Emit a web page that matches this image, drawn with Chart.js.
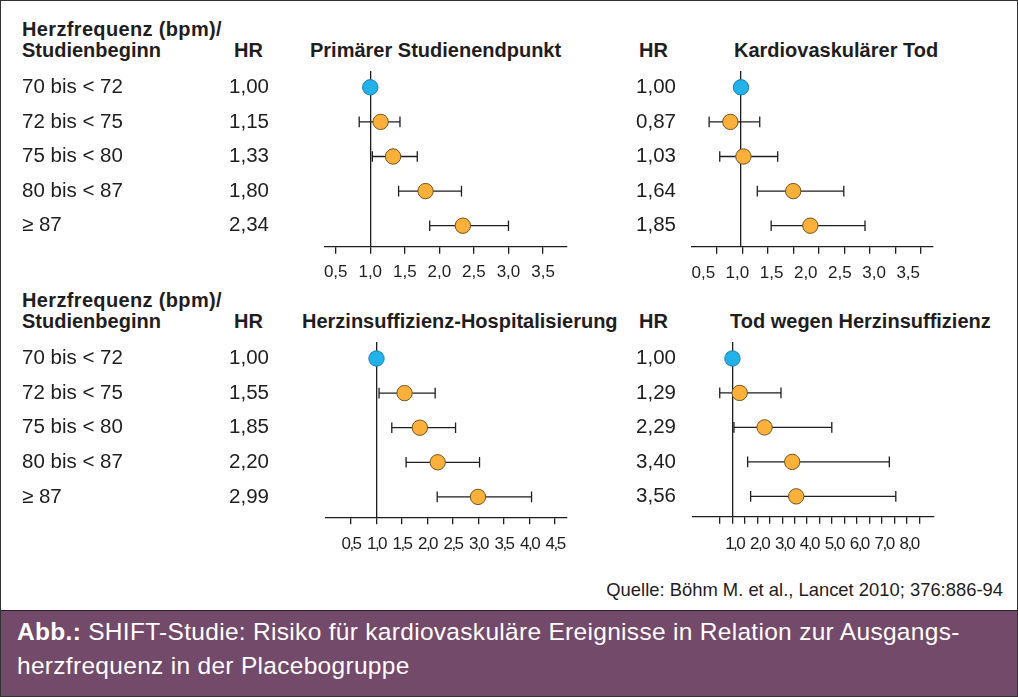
<!DOCTYPE html>
<html lang="de"><head><meta charset="utf-8">
<title>SHIFT-Studie</title>
<script src="https://cdn.jsdelivr.net/npm/chart.js@4.4.1/dist/chart.umd.min.js"></script>
<style>
html,body{margin:0;padding:0;background:#fff;}
#fig{position:relative;width:1018px;height:697px;overflow:hidden;background:#fff;font-family:"Liberation Sans",Arial,Helvetica,sans-serif;color:#1f1d1e;}
.t{position:absolute;white-space:nowrap;line-height:1;font-size:20px;}
.b{font-weight:bold;}
.w{letter-spacing:0.35px;}
canvas{position:absolute;}
#band{position:absolute;left:0;top:610px;width:1018px;height:87px;background:#744a6a;border-top:1.5px solid #2b2128;box-sizing:border-box;}
#cap{position:absolute;left:17px;top:614.5px;color:#fff;font-size:24.5px;letter-spacing:0.3px;line-height:34px;white-space:nowrap;}
#frame{position:absolute;left:0;top:0;width:1018px;height:697px;border:1.5px solid #333;box-sizing:border-box;pointer-events:none;}
</style></head>
<body>
<div id="fig">
  <div class="t b w" style="left:22px;top:19.1px">Herzfrequenz (bpm)/</div>
  <div class="t b" style="left:22px;top:40.1px">Studienbeginn</div>
  <div class="t b" style="right:755px;top:40.4px">HR</div>
  <div class="t b" style="left:310px;top:40.4px">Primärer Studienendpunkt</div>
  <div class="t b" style="right:350px;top:40.4px">HR</div>
  <div class="t b" style="left:734px;top:40.4px">Kardiovaskulärer Tod</div>

  <div class="t b w" style="left:22px;top:290.1px">Herzfrequenz (bpm)/</div>
  <div class="t b" style="left:22px;top:311.1px">Studienbeginn</div>
  <div class="t b" style="right:755px;top:311.1px">HR</div>
  <div class="t b" style="left:302px;top:311.1px">Herzinsuffizienz-Hospitalisierung</div>
  <div class="t b" style="right:350px;top:311.1px">HR</div>
  <div class="t b" style="left:730px;top:311.1px">Tod wegen Herzinsuffizienz</div>

  <canvas id="c1" width="580" height="240" style="left:0;top:60px;width:580px;height:240px"></canvas>
  <canvas id="c2" width="365" height="240" style="left:580px;top:60px;width:365px;height:240px"></canvas>
  <canvas id="c3" width="580" height="240" style="left:0;top:330px;width:580px;height:240px"></canvas>
  <canvas id="c4" width="365" height="240" style="left:580px;top:330px;width:365px;height:240px"></canvas>

  <div class="t" style="right:15px;top:581.1px;font-size:18.4px">Quelle: Böhm M. et al., Lancet 2010; 376:886-94</div>
  <div id="band"></div>
  <div id="cap"><b>Abb.:</b> SHIFT-Studie: Risiko für kardiovaskuläre Ereignisse in Relation zur Ausgangs-<br>herzfrequenz in der Placebogruppe</div>
  <div id="frame"></div>
</div>
<script>
// ---- data ----
const rowLabels = ['70 bis < 72', '72 bis < 75', '75 bis < 80', '80 bis < 87', '≥ 87'];
const rowIndex = [0, 1, 2, 3, 4];

// Primärer Studienendpunkt
const hrPrimary = [1.00, 1.15, 1.33, 1.80, 2.34];
const loPrimary = [null, 0.84, 1.03, 1.41, 1.86];
const hiPrimary = [null, 1.43, 1.68, 2.32, 3.00];
const ticksPrimary = [0.5, 1.0, 1.5, 2.0, 2.5, 3.0, 3.5];
const tickLabelsPrimary = ['0,5', '1,0', '1,5', '2,0', '2,5', '3,0', '3,5'];

// Kardiovaskulärer Tod
const hrCvDeath = [1.00, 0.87, 1.03, 1.64, 1.85];
const loCvDeath = [null, 0.61, 0.74, 1.20, 1.37];
const hiCvDeath = [null, 1.23, 1.45, 2.26, 2.52];
const ticksCvDeath = [0.5, 1.0, 1.5, 2.0, 2.5, 3.0, 3.5, 4.0, 4.5];
const tickLabelValuesCvDeath = [0.5, 1.0, 1.5, 2.0, 2.5, 3.0, 3.5];
const tickLabelsCvDeath = ['0,5', '1,0', '1,5', '2,0', '2,5', '3,0', '3,5'];

// Herzinsuffizienz-Hospitalisierung
const hrHfHosp = [1.00, 1.55, 1.85, 2.20, 2.99];
const loHfHosp = [null, 1.05, 1.30, 1.58, 2.19];
const hiHfHosp = [null, 2.15, 2.55, 3.02, 4.04];
const ticksHfHosp = [0.5, 1.0, 1.5, 2.0, 2.5, 3.0, 3.5, 4.0, 4.5];
const tickLabelsHfHosp = ['0,5', '1,0', '1,5', '2,0', '2,5', '3,0', '3,5', '4,0', '4,5'];

// Tod wegen Herzinsuffizienz
const hrHfDeath = [1.00, 1.29, 2.29, 3.40, 3.56];
const loHfDeath = [null, 0.49, 1.06, 1.61, 1.73];
const hiHfDeath = [null, 2.95, 4.99, 7.30, 7.56];
const ticksHfDeath = [0.5, 1.0, 1.5, 2.0, 2.5, 3.0, 3.5, 4.0, 4.5, 5.0, 5.5, 6.0, 6.5, 7.0, 7.5, 8.0, 8.5];
const tickLabelValuesHfDeath = [1, 2, 3, 4, 5, 6, 7, 8];
const tickLabelsHfDeath = ['1,0', '2,0', '3,0', '4,0', '5,0', '6,0', '7,0', '8,0'];

// ---- styles ----
const ink = '#1f1d1e';
const blue = '#22b1e8', blueEdge = '#1a7fae';
const orange = '#fbb03b', orangeEdge = '#6f561f';
const FONT = '"Liberation Sans", Arial, sans-serif';

function fmtHR(v) { return v.toFixed(2).replace('.', ','); }

function buildPanel(p) {
  const datasets = [];
  datasets.push({
    data: p.hr.map((v, i) => ({ x: v, y: rowIndex[i] })),
    pointRadius: 7.7,
    pointBackgroundColor: p.hr.map((v, i) => i === 0 ? blue : orange),
    pointBorderColor: p.hr.map((v, i) => i === 0 ? blueEdge : orangeEdge),
    pointBorderWidth: 1,
    order: 0, xAxisID: 'x', yAxisID: 'yh'
  });
  p.lo.forEach((lo, i) => {
    if (lo == null) return;
    datasets.push({
      data: [{ x: lo, y: rowIndex[i] }, { x: p.hi[i], y: rowIndex[i] }],
      showLine: true, borderColor: ink, borderWidth: 1.3,
      pointStyle: 'line', pointRotation: 90, pointRadius: 5.3,
      pointBorderColor: ink, pointBorderWidth: 1.3, pointBackgroundColor: ink,
      order: 1, xAxisID: 'x', yAxisID: 'yh'
    });
  });
  const vFit = (w) => s => { if (w !== undefined) s.width = w; s.paddingTop = 0; s.paddingBottom = 0; };
  const rowScale = (extra) => Object.assign({
    type: 'linear', reverse: true, min: p.rowMin, max: p.rowMax,
    afterBuildTicks: s => { s.ticks = rowIndex.map(v => ({ value: v })); },
    grid: { display: false, drawTicks: false },
    border: { display: false },
    afterFit: vFit()
  }, extra);

  const scales = {
    x: { type: 'linear', display: false, min: p.dMin, max: p.dMax },
    xt: {
      type: 'linear', position: 'bottom', weight: 1, min: p.tMin, max: p.tMax,
      afterBuildTicks: s => { s.ticks = p.ticks.map(v => ({ value: v })); },
      ticks: { display: false },
      grid: { display: true, drawOnChartArea: false, drawTicks: true, tickLength: 7, color: ink, lineWidth: 1.3 },
      border: { display: true, color: ink, width: 1.3 },
      afterFit: s => { s.height = 7; s.paddingLeft = 0; s.paddingRight = 0; }
    },
    xl: {
      type: 'linear', position: 'bottom', weight: 2, min: p.lMin, max: p.lMax,
      afterBuildTicks: s => { s.ticks = p.labelTicks.map(v => ({ value: v })); },
      ticks: {
        autoSkip: false, maxRotation: 0, minRotation: 0, padding: p.lPad, color: ink,
        font: { family: FONT, size: 17 },
        callback: (v, i) => p.labels[i]
      },
      grid: { display: false, drawTicks: false },
      border: { display: false },
      afterFit: s => {
        s.height = 30; s.paddingLeft = 0; s.paddingRight = 0;
        if (p.lSpacing && !s._spaced) {
          const orig = s.drawLabels;
          s.drawLabels = function (ca) {
            const c = this.ctx; c.save(); c.letterSpacing = p.lSpacing; orig.call(this, ca); c.restore();
          };
          s._spaced = true;
        }
      }
    },
    yh: rowScale({
      position: 'left', weight: 1,
      ticks: { autoSkip: false, padding: p.yhPad, color: ink, font: { family: FONT, size: 20.5 }, callback: (v, i) => fmtHR(p.hr[i]) },
      afterFit: vFit(p.yhWidth)
    }),
    y0: rowScale({
      position: { x: 1 },
      ticks: { display: false },
      border: { display: true, color: ink, width: 1.3 }
    })
  };
  if (p.withRows) {
    scales.yr = rowScale({
      position: 'left', weight: 2,
      ticks: { autoSkip: false, crossAlign: 'far', padding: 0, color: ink, font: { family: FONT, size: 20.5 }, callback: (v, i) => rowLabels[i] },
      afterFit: vFit(p.yrWidth)
    });
  }
  new Chart(document.getElementById(p.id), {
    type: 'scatter',
    data: { datasets },
    options: {
      responsive: false, animation: false, events: [],
      layout: { padding: p.pad },
      plugins: { legend: { display: false }, tooltip: { enabled: false } },
      scales
    }
  });
}

buildPanel({
  id: 'c1', withRows: true, hr: hrPrimary, lo: loPrimary, hi: hiPrimary,
  pad: { left: 22, right: 13, top: 12, bottom: 16.3 },
  rowMin: -0.442, rowMax: 4.607, yrWidth: 150, yhWidth: 153, yhPad: 56,
  dMin: 0.345, dMax: 3.847, tMin: 0.345, tMax: 3.847, lMin: 0.345, lMax: 3.847,
  ticks: ticksPrimary, labelTicks: ticksPrimary, labels: tickLabelsPrimary, lPad: 8.1
});
buildPanel({
  id: 'c2', withRows: false, hr: hrCvDeath, lo: loCvDeath, hi: hiCvDeath,
  pad: { left: 0, right: 12, top: 12, bottom: 16.3 },
  rowMin: -0.442, rowMax: 4.607, yhWidth: 112, yhPad: 16,
  dMin: 0.40, dMax: 3.353, tMin: 0.016, tMax: 4.741, lMin: 0.335, lMax: 3.863,
  ticks: ticksCvDeath, labelTicks: tickLabelValuesCvDeath, labels: tickLabelsCvDeath, lPad: 9
});
buildPanel({
  id: 'c3', withRows: true, hr: hrHfHosp, lo: loHfHosp, hi: hiHfHosp,
  pad: { left: 22, right: 13.3, top: 13, bottom: 15.7 },
  rowMin: -0.448, rowMax: 4.59, yrWidth: 150, yhWidth: 154, yhPad: 57,
  dMin: 0.01, dMax: 4.729, tMin: 0.01, tMax: 4.729, lMin: 0.01, lMax: 4.729,
  ticks: ticksHfHosp, labelTicks: ticksHfHosp, labels: tickLabelsHfHosp, lPad: 10.2, lSpacing: '-1.5px'
});
buildPanel({
  id: 'c4', withRows: false, hr: hrHfDeath, lo: loHfDeath, hi: hiHfDeath,
  pad: { left: 0, right: 11.7, top: 13, bottom: 16.3 },
  rowMin: -0.448, rowMax: 4.59, yhWidth: 112.7, yhPad: 16.7,
  dMin: -0.596, dMax: 9.066, tMin: -0.596, tMax: 9.066, lMin: -0.688, lMax: 8.974,
  ticks: ticksHfDeath, labelTicks: tickLabelValuesHfDeath, labels: tickLabelsHfDeath, lPad: 10.8, lSpacing: '-1.5px'
});
</script>
</body></html>
